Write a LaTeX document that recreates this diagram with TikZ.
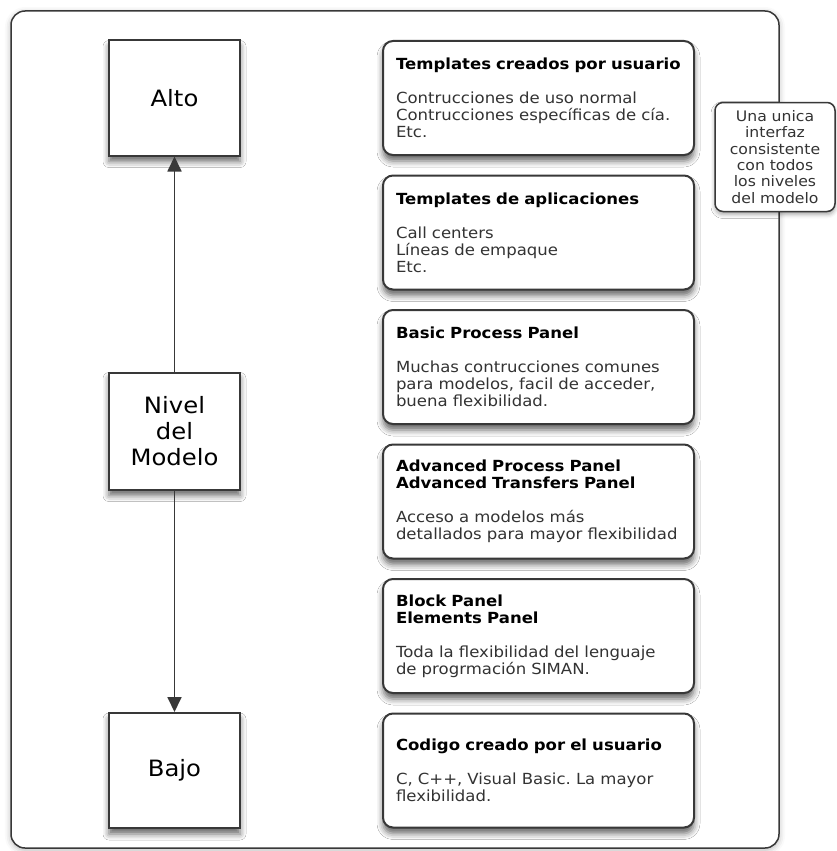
\documentclass[tikz,border=0pt]{standalone}
\usepackage{fontspec}
\setmainfont{DejaVu Sans}[FakeStretch=1.08]
\usetikzlibrary{positioning,arrows.meta,shadows.blur}
\frenchspacing

\definecolor{lineGray}{HTML}{383838}
\definecolor{bodyGray}{HTML}{333333}

\tikzset{
    softShadow/.style={blur shadow={shadow xshift=0pt, shadow yshift=-6pt, shadow blur radius=6pt, shadow opacity=60}},
    outerFrame/.style={draw=lineGray, line width=1.5pt, rounded corners=14pt, fill=white, minimum width=768pt, minimum height=837pt,
        blur shadow={shadow xshift=0pt, shadow yshift=-2pt, shadow blur radius=6pt, shadow opacity=30}},
    levelBox/.style={draw=lineGray, line width=2pt, fill=white, minimum width=131pt, minimum height=115pt, inner sep=0pt,
        align=center, font=\fontsize{22.5}{26}\selectfont, softShadow},
    panelBox/.style={draw=lineGray, line width=2pt, rounded corners=10pt, fill=white, minimum width=311pt, minimum height=114pt,
        text width=285pt, inner sep=0pt, align=left, text=bodyGray, font=\fontsize{15.3}{17}\selectfont, softShadow},
    noteBox/.style={draw=lineGray, line width=1.5pt, rounded corners=8pt, fill=white, minimum width=120pt, minimum height=109pt,
        text width=116pt, inner sep=0pt, align=center, text=bodyGray, font=\fontsize{14.5}{16.3}\selectfont,
        blur shadow={shadow xshift=0pt, shadow yshift=-3pt, shadow blur radius=4pt, shadow opacity=35}},
    levelArrow/.style={draw=lineGray, line width=1.8pt, -{Triangle[length=15pt,width=14pt]}}
}
\newcommand{\paneltitle}[1]{{\color{black}\bfseries #1}}

\begin{document}
\begin{tikzpicture}[x=1pt,y=-1pt]
    \useasboundingbox (0,0) rectangle (836,851);
    \node[outerFrame] (frame) at (395,429.5) {};

    \node[panelBox] (userTemplates) at (538.5,98) {\paneltitle{Templates creados por usuario}\\[17pt]
        Contrucciones de uso normal\\Contrucciones específicas de cía.\\Etc.};
    \node[panelBox, below=18.5pt of userTemplates] (appTemplates) {\paneltitle{Templates de aplicaciones}\\[17pt]
        Call centers\\Líneas de empaque\\Etc.};
    \node[panelBox, below=18.5pt of appTemplates] (basicPanel) {\paneltitle{Basic Process Panel}\\[17pt]
        Muchas contrucciones comunes\\para modelos, facil de acceder,\\buena flexibilidad.};
    \node[panelBox, below=18.5pt of basicPanel] (advancedPanel) {\paneltitle{Advanced Process Panel}\\\paneltitle{Advanced Transfers Panel}\\[17pt]
        Acceso a modelos más\\detallados para mayor flexibilidad};
    \node[panelBox, below=18.5pt of advancedPanel] (blockPanel) {\paneltitle{Block Panel}\\\paneltitle{Elements Panel}\\[17pt]
        Toda la flexibilidad del lenguaje\\de progrmación SIMAN.};
    \node[panelBox, below=18.5pt of blockPanel] (userCode) {\paneltitle{Codigo creado por el usuario}\\[17pt]
        C, C++, Visual Basic. La mayor\\flexibilidad.};

    \node[levelBox, left=141pt of userTemplates] (alto) {Alto};
    \node[levelBox, minimum height=117pt] (nivel) at (alto |- 0,431) {Nivel\\del\\Modelo};
    \node[levelBox, left=141pt of userCode] (bajo) {Bajo};

    \draw[levelArrow] (nivel) -- (alto);
    \draw[levelArrow] (nivel) -- (bajo);

    \node[noteBox] (interfaceNote) at (775,157) {Una unica\\interfaz\\consistente\\con todos\\los niveles\\del modelo};
\end{tikzpicture}
\end{document}
